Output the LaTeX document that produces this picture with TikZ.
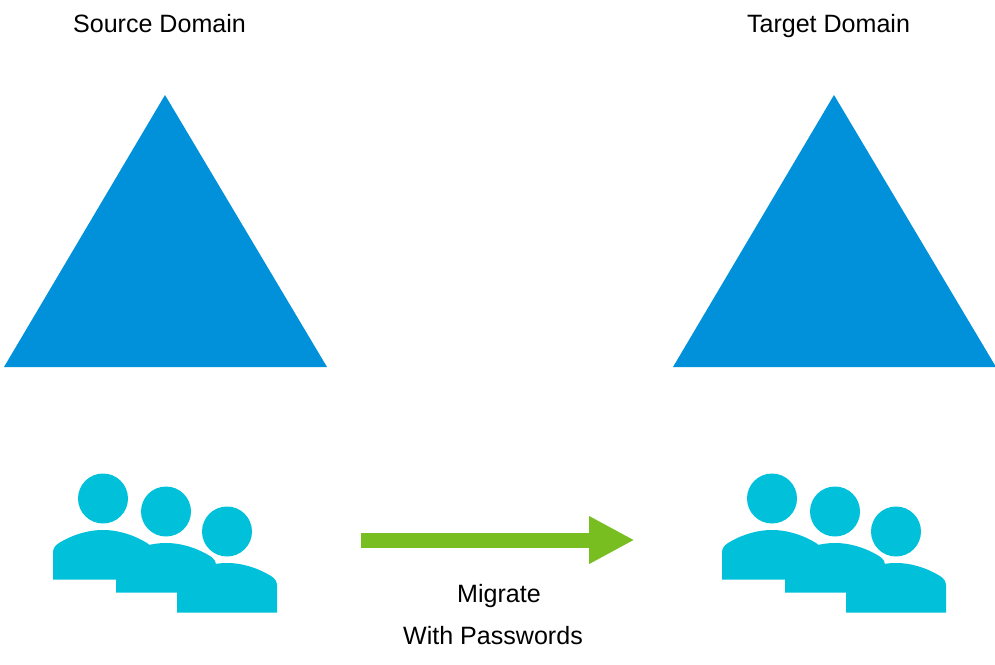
\documentclass[tikz,border=0pt]{standalone}
\usepackage{fontspec}
\setmainfont{Liberation Sans}
\usetikzlibrary{arrows.meta}
\definecolor{domainblue}{HTML}{0091DA}
\definecolor{usercyan}{HTML}{00C1D9}
\definecolor{migrategreen}{HTML}{78BE20}
\tikzset{
  caption/.style={font=\fontsize{18.8}{22}\selectfont,text=black,inner sep=0pt,anchor=base},
  domaintri/.style={fill=domainblue},
  migrate/.style={line width=15*.75pt,migrategreen,-{Triangle[length=45.5*.75pt,width=44.6*.75pt]}},
  person/.pic={
    \fill[usercyan] (50,-81) circle (25);
    \fill[usercyan] (0,0) -- (0,-27) .. controls (0,-31) and (2,-34) .. (6,-36.5)
      .. controls (18,-44) and (34,-49.5) .. (50,-49.5)
      .. controls (66,-49.5) and (82,-44) .. (94,-36.5)
      .. controls (98,-34) and (100,-31) .. (100,-27) -- (100,0) -- cycle;
  },
  usergroup/.pic={
    \pic at (0,0) {person};
    \pic at (63,13) {person};
    \pic at (124,33) {person};
  }
}
\begin{document}
\begin{tikzpicture}
  [x=.75pt,y=-.75pt]
  \useasboundingbox (0,0) rectangle (995,664);

  \node[caption] (src) at (159.5,32) {Source Domain};
  \node[caption] (tgt) at (828.5,32) {Target Domain};
  \node[caption] (m1) at (499,602) {Migrate};
  \node[caption] (m2) at (493,644) {With Passwords};

  \fill[domaintri] (165,95) -- (327,367) -- (4,367) -- cycle;
  \fill[domaintri] (834,95) -- (996,367) -- (673,367) -- cycle;

  \pic at (53,579.5) {usergroup};
  \pic at (722,579.5) {usergroup};

  \coordinate (a1) at (361,540);
  \coordinate (a2) at (634.5,540);
  \draw[migrate] (a1) -- (a2);

\end{tikzpicture}
\end{document}
